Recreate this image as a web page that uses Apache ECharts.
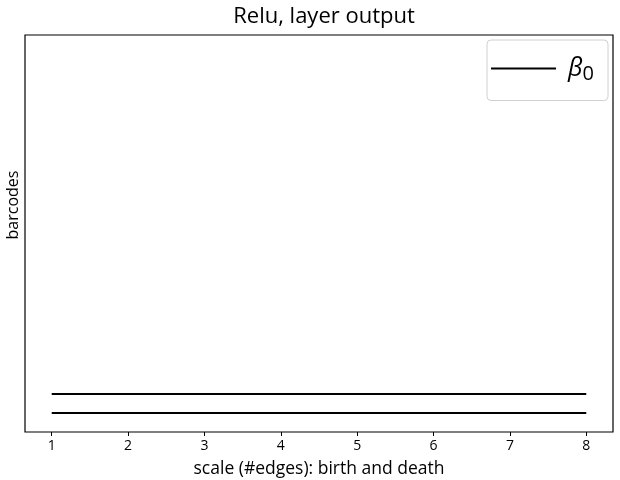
<!DOCTYPE html>
<html>
<head>
<meta charset="utf-8">
<script src="https://cdn.jsdelivr.net/npm/echarts@6/dist/echarts.min.js"></script>
<style>html,body{margin:0;padding:0;background:#fff}#c{width:620px;height:480px}</style>
</head>
<body>
<div id="c"></div>
<script>
const xTicks = [1, 2, 3, 4, 5, 6, 7, 8];
const births = [1, 1];
const deaths = [8, 8];
const levels = [1, 2];
const legendName = 'β0';
const FONT = '"Open Sans", "Noto Sans", sans-serif';

const chart = echarts.init(document.getElementById('c'));
const series = births.map((b, i) => ({
  name: legendName,
  type: 'line',
  data: [[b, levels[i]], [deaths[i], levels[i]]],
  symbol: 'none',
  lineStyle: { color: '#000', width: 2 },
  itemStyle: { color: '#000' },
  animation: false
}));

chart.setOption({
  animation: false,
  title: {
    text: 'Relu, layer output',
    left: 319, textAlign: 'center', top: 1,
    textStyle: { fontFamily: FONT, fontSize: 22, fontWeight: 'normal', color: '#000' }
  },
  grid: { left: 25, right: 7, top: 35, bottom: 48, outerBoundsMode: 'none', containLabel: false, show: true, borderColor: '#000', borderWidth: 1.2, backgroundColor: '#fff' },
  legend: {
    right: 12, top: 40,
    orient: 'vertical',
    backgroundColor: '#fff',
    borderColor: '#d0d0d0', borderWidth: 1, borderRadius: 4,
    padding: [16, 14, 16, 4],
    itemWidth: 65, itemHeight: 2,
    icon: 'rect',
    data: [{ name: legendName, itemStyle: { color: '#000' } }],
    formatter: () => '{b|β}{s|0}',
    textStyle: {
      padding: [0, 0, 0, 7],
      rich: {
        b: { fontFamily: FONT, fontSize: 25, fontStyle: 'italic', color: '#000', height: 32 },
        s: { fontFamily: FONT, fontSize: 20, color: '#000', padding: [12, 0, 0, 0] }
      }
    }
  },
  xAxis: {
    type: 'value', min: 0.65, max: 8.35,
    name: 'scale (#edges): birth and death',
    nameLocation: 'middle', nameGap: 28,
    nameTextStyle: { fontFamily: FONT, fontSize: 17.5, color: '#000' },
    axisLine: { show: false },
    axisTick: { show: true, customValues: xTicks, length: 4, lineStyle: { color: '#000' } },
    axisLabel: { customValues: xTicks, fontFamily: FONT, fontSize: 14, color: '#000', margin: 7 },
    splitLine: { show: false }
  },
  yAxis: {
    type: 'value', min: 0, max: 20.9,
    axisLine: { show: false }, axisTick: { show: false }, axisLabel: { show: false }, splitLine: { show: false }
  },
  graphic: [{
    type: 'text', x: 5, y: 205, rotation: Math.PI / 2,
    style: { text: 'barcodes', fontFamily: FONT, fontSize: 16, fill: '#000', align: 'center', verticalAlign: 'top' }
  }],
  series: series
});
</script>
</body>
</html>
